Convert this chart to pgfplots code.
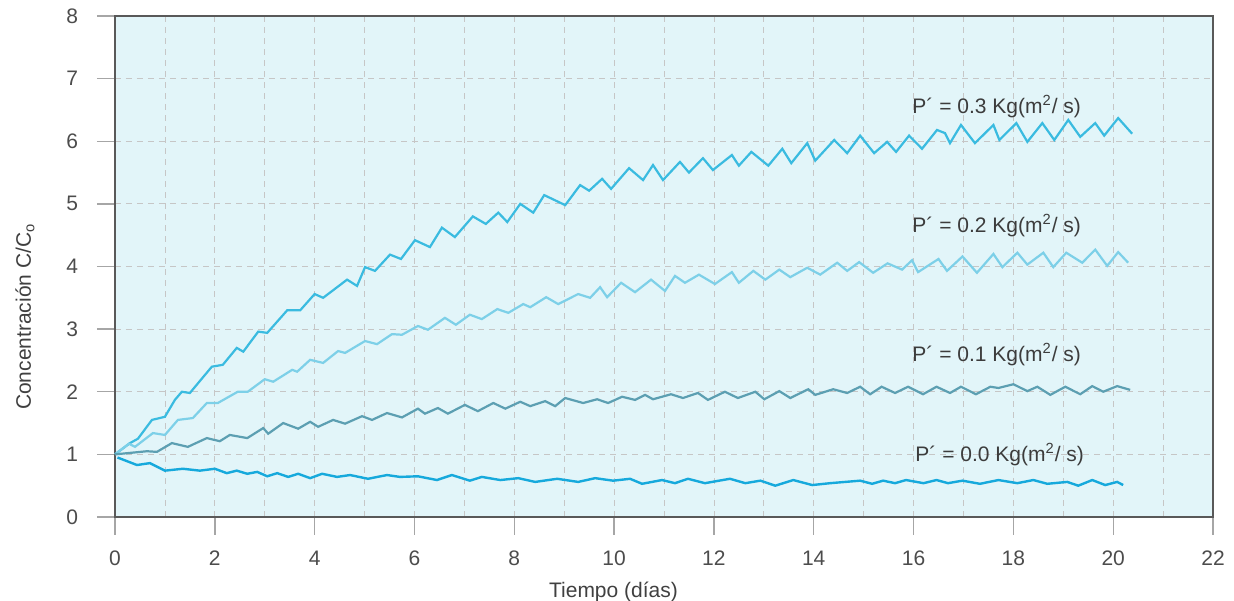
\documentclass[border=0pt]{standalone}
\usepackage{pgfplots}
\pgfplotsset{compat=1.18}
\usepackage{fontspec}
\setmainfont{Liberation Sans}
\definecolor{bg}{RGB}{226,245,249}
\definecolor{cA}{RGB}{58,187,224}
\definecolor{cB}{RGB}{125,208,232}
\definecolor{cC}{RGB}{92,159,178}
\definecolor{cD}{RGB}{22,169,220}
\definecolor{txt}{RGB}{60,60,60}
\begin{document}
\begin{tikzpicture}[font=\fontsize{10.5}{12}\selectfont]
\begin{axis}[
  scale only axis, width=549pt, height=250.5pt,
  xmin=0, xmax=22, ymin=0, ymax=8,
  xtick={0,2,...,22}, minor xtick={1,3,...,21}, ytick={0,1,...,8},
  grid=both,
  major grid style={gray!45, line width=0.4pt, dash pattern=on 3pt off 2.5pt},
  minor grid style={gray!45, line width=0.4pt, dash pattern=on 3pt off 2.5pt},
  axis background/.style={fill=bg},
  tick align=outside, tick pos=left,
  major tick length=9pt, minor tick length=0pt,
  tick style={gray!70, line width=0.7pt},
  axis line style={draw=black!65, line width=0.8pt},
  ticklabel style={text=black!70, font=\fontsize{10.5}{12}\selectfont},
  xticklabel shift=4.5pt, yticklabel shift=6pt,
  /pgf/number format/assume math mode=true,
  xlabel={Tiempo (días)},
  ylabel={Concentración C/C\textsubscript{o}},
  xlabel style={at={(axis description cs:0.454,0)}, anchor=base, yshift=-40.5pt, text=black!75},
  ylabel style={at={(axis description cs:-0.082,0.4)}, anchor=center, text=black!75},
  clip=false,
]
\addplot[cA, line width=1.1pt] coordinates {
(0,1.0) (0.3,1.18) (0.46,1.25) (0.74,1.55) (1.0,1.6) (1.2,1.87) (1.34,2.0) (1.5,1.98) (1.94,2.4) (2.16,2.43) (2.44,2.7) (2.57,2.64) (2.87,2.96) (3.05,2.94) (3.45,3.3) (3.71,3.3) (4.0,3.56) (4.17,3.5) (4.65,3.79) (4.85,3.69) (5.01,3.99) (5.21,3.93) (5.51,4.19) (5.73,4.12) (6.01,4.42) (6.31,4.31) (6.55,4.62) (6.81,4.47) (7.17,4.8) (7.43,4.68) (7.68,4.86) (7.86,4.71) (8.12,5.0) (8.38,4.86) (8.6,5.14) (9.02,4.98) (9.32,5.3) (9.5,5.21) (9.76,5.4) (9.94,5.24) (10.3,5.57) (10.58,5.38) (10.78,5.62) (10.98,5.38) (11.32,5.67) (11.5,5.5) (11.78,5.73) (11.98,5.54) (12.36,5.78) (12.5,5.61) (12.75,5.83) (13.09,5.61) (13.37,5.88) (13.55,5.65) (13.87,5.97) (14.03,5.69) (14.41,6.02) (14.67,5.81) (14.93,6.09) (15.21,5.81) (15.47,5.99) (15.65,5.83) (15.91,6.09) (16.17,5.88) (16.47,6.18) (16.63,6.13) (16.73,5.97) (16.95,6.26) (17.23,5.97) (17.6,6.26) (17.72,6.02) (18.06,6.29) (18.28,5.99) (18.58,6.29) (18.82,6.02) (19.1,6.34) (19.34,6.07) (19.64,6.29) (19.82,6.09) (20.1,6.37) (20.38,6.12)
};
\addplot[cB, line width=1.1pt] coordinates {
(0,1.0) (0.28,1.17) (0.4,1.12) (0.76,1.34) (1.0,1.31) (1.26,1.55) (1.56,1.58) (1.84,1.82) (2.06,1.82) (2.46,2.0) (2.66,2.0) (3.0,2.2) (3.17,2.16) (3.55,2.35) (3.65,2.32) (3.91,2.51) (4.17,2.46) (4.47,2.65) (4.61,2.62) (5.01,2.81) (5.25,2.76) (5.55,2.92) (5.75,2.91) (6.07,3.05) (6.27,2.99) (6.61,3.18) (6.83,3.07) (7.11,3.23) (7.35,3.16) (7.66,3.32) (7.88,3.26) (8.18,3.4) (8.32,3.35) (8.64,3.51) (8.88,3.4) (9.28,3.56) (9.52,3.5) (9.72,3.67) (9.86,3.51) (10.14,3.74) (10.42,3.59) (10.74,3.79) (11.02,3.61) (11.22,3.85) (11.42,3.74) (11.7,3.87) (12.02,3.72) (12.36,3.91) (12.5,3.74) (12.79,3.93) (13.03,3.79) (13.31,3.95) (13.53,3.83) (13.87,3.98) (14.13,3.87) (14.47,4.06) (14.67,3.93) (14.91,4.07) (15.19,3.9) (15.48,4.05) (15.77,3.95) (15.97,4.1) (16.09,3.91) (16.5,4.12) (16.67,3.93) (16.98,4.16) (17.27,3.9) (17.6,4.2) (17.78,3.99) (18.08,4.22) (18.28,4.03) (18.6,4.22) (18.8,3.99) (19.06,4.22) (19.38,4.06) (19.64,4.27) (19.88,4.01) (20.1,4.23) (20.3,4.06)
};
\addplot[cC, line width=1.1pt] coordinates {
(0,1.0) (0.64,1.05) (0.84,1.04) (1.14,1.18) (1.46,1.12) (1.84,1.26) (2.1,1.21) (2.3,1.31) (2.65,1.26) (2.97,1.42) (3.07,1.33) (3.37,1.5) (3.67,1.41) (3.91,1.52) (4.07,1.44) (4.37,1.55) (4.61,1.49) (4.95,1.61) (5.15,1.55) (5.45,1.66) (5.75,1.59) (6.07,1.73) (6.21,1.65) (6.47,1.74) (6.67,1.65) (7.01,1.79) (7.27,1.69) (7.58,1.82) (7.82,1.73) (8.12,1.84) (8.32,1.77) (8.62,1.85) (8.82,1.77) (9.02,1.9) (9.38,1.82) (9.66,1.88) (9.88,1.82) (10.16,1.92) (10.42,1.87) (10.62,1.95) (10.78,1.88) (11.14,1.96) (11.38,1.9) (11.68,1.98) (11.88,1.87) (12.22,2.0) (12.48,1.9) (12.83,2.0) (13.01,1.88) (13.31,2.01) (13.53,1.9) (13.89,2.04) (14.03,1.95) (14.39,2.04) (14.67,1.98) (14.93,2.08) (15.13,1.96) (15.36,2.08) (15.63,1.98) (15.89,2.08) (16.19,1.96) (16.46,2.08) (16.73,1.98) (16.95,2.08) (17.25,1.96) (17.54,2.08) (17.7,2.06) (18.0,2.12) (18.28,2.01) (18.48,2.08) (18.74,1.95) (19.04,2.08) (19.34,1.96) (19.58,2.09) (19.8,2.0) (20.08,2.09) (20.34,2.03)
};
\addplot[cD, line width=1.2pt] coordinates {
(0.05,0.95) (0.44,0.83) (0.7,0.86) (1.0,0.74) (1.36,0.77) (1.7,0.74) (2.0,0.77) (2.24,0.7) (2.44,0.74) (2.65,0.69) (2.85,0.72) (3.05,0.65) (3.25,0.7) (3.47,0.64) (3.67,0.69) (3.91,0.62) (4.15,0.69) (4.45,0.64) (4.71,0.67) (5.07,0.61) (5.45,0.67) (5.71,0.64) (6.07,0.65) (6.45,0.59) (6.75,0.67) (7.11,0.58) (7.35,0.64) (7.72,0.59) (8.08,0.62) (8.42,0.56) (8.86,0.61) (9.28,0.56) (9.62,0.62) (9.98,0.58) (10.32,0.61) (10.56,0.53) (10.96,0.59) (11.22,0.54) (11.48,0.61) (11.82,0.54) (12.32,0.61) (12.63,0.54) (12.93,0.58) (13.23,0.5) (13.59,0.59) (13.97,0.51) (14.33,0.54) (14.93,0.58) (15.17,0.53) (15.39,0.58) (15.63,0.54) (15.85,0.59) (16.2,0.54) (16.46,0.59) (16.69,0.54) (16.98,0.58) (17.33,0.53) (17.7,0.59) (18.08,0.54) (18.4,0.59) (18.68,0.53) (19.08,0.56) (19.3,0.5) (19.58,0.59) (19.84,0.51) (20.08,0.56) (20.2,0.51)
};
\node[anchor=base west, inner sep=0pt, text=txt] at (axis cs:15.97,6.45) {P´ = 0.3 Kg(m\textsuperscript{2}/ s)};
\node[anchor=base west, inner sep=0pt, text=txt] at (axis cs:15.97,4.54) {P´ = 0.2 Kg(m\textsuperscript{2}/ s)};
\node[anchor=base west, inner sep=0pt, text=txt] at (axis cs:15.97,2.48) {P´ = 0.1 Kg(m\textsuperscript{2}/ s)};
\node[anchor=base west, inner sep=0pt, text=txt] at (axis cs:16.03,0.88) {P´ = 0.0 Kg(m\textsuperscript{2}/ s)};
\path (rel axis cs:0,0) ++(-57.5pt,-42pt) coordinate (bbsw);
\path (rel axis cs:1,1) ++(10.5pt,8pt) coordinate (bbne);
\end{axis}
\pgfresetboundingbox
\path[use as bounding box] (bbsw) rectangle (bbne);
\end{tikzpicture}
\end{document}
